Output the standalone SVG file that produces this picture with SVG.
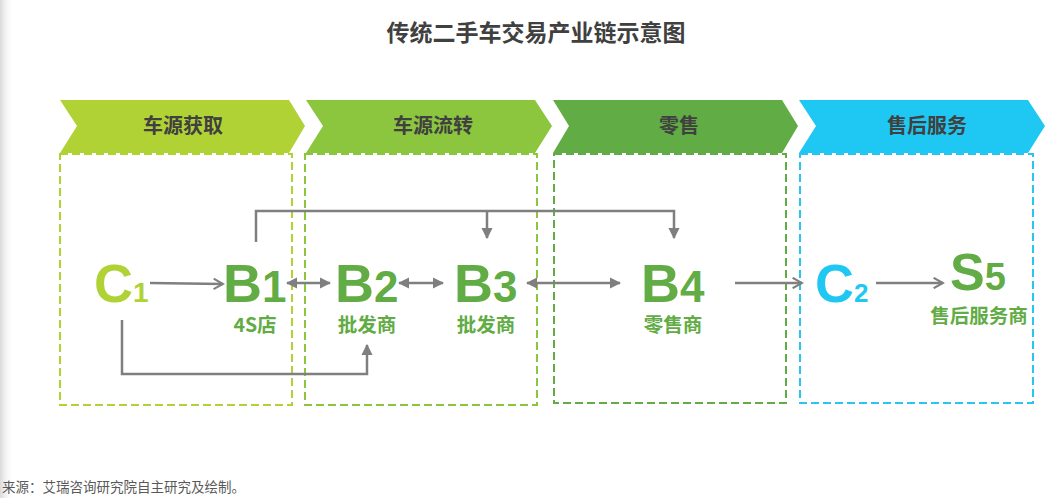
<svg xmlns="http://www.w3.org/2000/svg" width="1060" height="498" viewBox="0 0 1060 498">
<defs>
<linearGradient id="edge" x1="0" y1="0" x2="1" y2="0">
<stop offset="0" stop-color="#d9d9d9"/>
<stop offset="1" stop-color="#ffffff" stop-opacity="0"/>
</linearGradient>
<marker id="tri" viewBox="0 0 10 10" refX="9" refY="5" markerWidth="4.5" markerHeight="4.5" orient="auto-start-reverse" markerUnits="strokeWidth">
<path d="M0,0 L10,5 L0,10 Z" fill="#7f7f7f"/>
</marker>
<marker id="open" viewBox="0 0 12 12" refX="10" refY="6" markerWidth="5" markerHeight="5" orient="auto" markerUnits="strokeWidth">
<path d="M1,1 L10,6 L1,11" fill="none" stroke="#7f7f7f" stroke-width="2"/>
</marker>
<style>
.chev-t{font-family:"Noto Sans CJK SC","Liberation Sans",sans-serif;font-weight:700;font-size:20px;fill:#404040;text-anchor:middle}
.box{fill:none;stroke-width:2;stroke-dasharray:8 4}
.big{font-family:"Liberation Sans",Arial,sans-serif;font-weight:700}
.lbl{font-family:"Noto Sans CJK SC","Liberation Sans",sans-serif;font-weight:700;font-size:19.5px;fill:#62ac45;text-anchor:middle}
.ln{fill:none;stroke:#7f7f7f;stroke-width:2.5}
</style>
</defs>
<rect x="0" y="0" width="1060" height="498" fill="#ffffff"/>
<rect x="0" y="0" width="14" height="498" fill="url(#edge)"/>
<text x="536" y="41" font-family="Noto Sans CJK SC,Liberation Sans,sans-serif" font-weight="700" font-size="23" fill="#404040" text-anchor="middle">传统二手车交易产业链示意图</text>

<g id="stage1">
<path d="M60,100 L289,100 L305,126 L289,153 L60,153 L77,126 Z" fill="#b0d235"/>
<text class="chev-t" x="183" y="133">车源获取</text>
<rect class="box" x="60" y="154" width="232" height="251" stroke="#b0d235"/>
</g>
<g id="stage2">
<path d="M306,100 L535,100 L552,126 L535,153 L306,153 L323,126 Z" fill="#8cc63f"/>
<text class="chev-t" x="433" y="133">车源流转</text>
<rect class="box" x="305" y="154" width="232" height="251" stroke="#8cc63f"/>
</g>
<g id="stage3">
<path d="M553,100 L782,100 L798,126 L782,153 L553,153 L569,126 Z" fill="#62ac45"/>
<text class="chev-t" x="679" y="133">零售</text>
<rect class="box" x="554" y="154" width="232" height="249" stroke="#62ac45"/>
</g>
<g id="stage4">
<path d="M799,100 L1028,100 L1045,126 L1028,153 L799,153 L816,126 Z" fill="#1fc8f2"/>
<text class="chev-t" x="927" y="133">售后服务</text>
<rect class="box" x="800" y="154" width="233" height="249" stroke="#29c5f0"/>
</g>

<g id="connectors">
<line class="ln" x1="150" y1="283" x2="223" y2="284" marker-end="url(#open)"/>
<line class="ln" x1="287" y1="283" x2="330" y2="283" marker-start="url(#tri)" marker-end="url(#tri)"/>
<line class="ln" x1="399" y1="283" x2="443" y2="283" marker-start="url(#tri)" marker-end="url(#tri)"/>
<line class="ln" x1="527" y1="283" x2="620" y2="283" marker-start="url(#tri)" marker-end="url(#tri)"/>
<line class="ln" x1="735" y1="283" x2="802" y2="283" marker-end="url(#open)"/>
<line class="ln" x1="876" y1="283" x2="943" y2="283" marker-end="url(#open)"/>
<path class="ln" d="M256,242 L256,211 L674,211 L674,238" marker-end="url(#tri)"/>
<path class="ln" d="M487,211 L487,238" marker-end="url(#tri)"/>
<path class="ln" d="M122,320 L122,374 L367,374 L367,345" marker-end="url(#tri)"/>
</g>

<g id="C1">
<text class="big" x="94" y="302" font-size="54" fill="#b0d235">C<tspan font-size="28">1</tspan></text>
</g>
<g id="B1">
<text class="big" x="223" y="302" font-size="54" fill="#62ac45">B<tspan font-size="44">1</tspan></text>
<text class="lbl" x="255" y="332">4S店</text>
</g>
<g id="B2">
<text class="big" x="335" y="302" font-size="54" fill="#62ac45">B<tspan font-size="44">2</tspan></text>
<text class="lbl" x="367" y="332">批发商</text>
</g>
<g id="B3">
<text class="big" x="454" y="302" font-size="54" fill="#62ac45">B<tspan font-size="44">3</tspan></text>
<text class="lbl" x="486" y="332">批发商</text>
</g>
<g id="B4">
<text class="big" x="641" y="302" font-size="54" fill="#62ac45">B<tspan font-size="44">4</tspan></text>
<text class="lbl" x="673" y="332">零售商</text>
</g>
<g id="C2">
<text class="big" x="815" y="302" font-size="54" fill="#1fc8f2">C<tspan font-size="26">2</tspan></text>
</g>
<g id="S5">
<text class="big" x="950" y="290" font-size="52" fill="#62ac45">S<tspan font-size="38">5</tspan></text>
<text class="lbl" x="979" y="323">售后服务商</text>
</g>

<text x="2" y="492" font-family="Noto Sans CJK SC,Liberation Sans,sans-serif" font-size="13.5" fill="#595959">来源：艾瑞咨询研究院自主研究及绘制。</text>
</svg>
